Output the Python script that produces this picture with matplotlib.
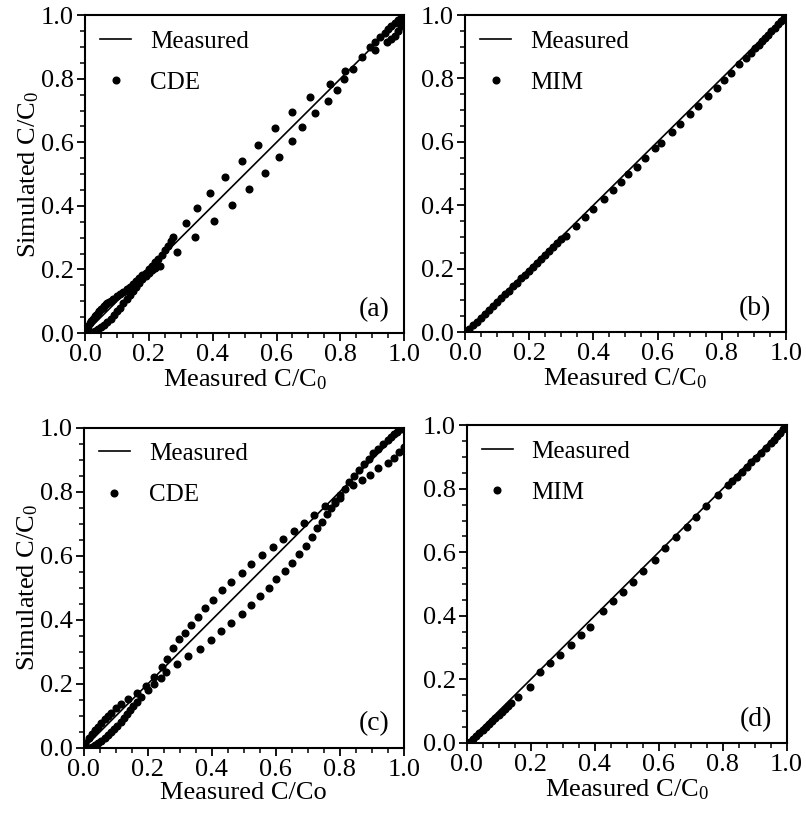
import matplotlib
matplotlib.use("Agg")
import matplotlib.pyplot as plt
from matplotlib.ticker import MultipleLocator, FormatStrFormatter

plt.rcParams["font.family"] = ["Liberation Serif", "DejaVu Serif"]
plt.rcParams["mathtext.default"] = "regular"

# 1:1 measured line
meas = [0.0, 0.25, 0.5, 0.75, 1.0]

# ---- panel (a): CDE ----
a_x = [0.0, 0.005, 0.01, 0.015, 0.02, 0.025, 0.03, 0.035, 0.04, 0.045, 0.05, 0.055, 0.06, 0.065,
       0.07, 0.075, 0.08, 0.089, 0.10, 0.11, 0.12, 0.131, 0.14, 0.15, 0.16, 0.17, 0.18, 0.19,
       0.20, 0.21, 0.22, 0.23, 0.24, 0.25, 0.26, 0.268, 0.277,
       0.317, 0.350, 0.392, 0.439, 0.491, 0.541, 0.594, 0.650, 0.705, 0.766, 0.815, 0.867, 0.893,
       0.91, 0.925, 0.94, 0.95, 0.96, 0.97, 0.98, 0.99, 1.0,
       0.01, 0.02, 0.03, 0.04, 0.05, 0.06, 0.07, 0.08, 0.09, 0.10, 0.11, 0.12, 0.13, 0.14, 0.15,
       0.16, 0.17, 0.18, 0.19, 0.20, 0.21, 0.22, 0.235,
       0.289, 0.343, 0.404, 0.462, 0.513, 0.564, 0.609, 0.648, 0.679, 0.721, 0.761, 0.789, 0.812,
       0.838, 0.909, 0.946, 0.96, 0.97, 0.98, 0.99, 1.0, 1.0]
a_y = [0.0, 0.012, 0.022, 0.03, 0.038, 0.045, 0.052, 0.058, 0.064, 0.07, 0.075, 0.08, 0.085, 0.09,
       0.094, 0.098, 0.102, 0.107, 0.115, 0.122, 0.13, 0.137, 0.145, 0.154, 0.163, 0.172, 0.181, 0.19,
       0.20, 0.21, 0.222, 0.234, 0.247, 0.26, 0.275, 0.29, 0.303,
       0.347, 0.392, 0.442, 0.492, 0.541, 0.593, 0.645, 0.695, 0.743, 0.785, 0.824, 0.869, 0.900,
       0.915, 0.93, 0.945, 0.955, 0.965, 0.975, 0.984, 0.992, 1.0,
       0.0, 0.002, 0.006, 0.012, 0.018, 0.026, 0.035, 0.045, 0.056, 0.068, 0.08, 0.093, 0.106, 0.12, 0.133,
       0.146, 0.158, 0.17, 0.18, 0.19, 0.198, 0.205, 0.212,
       0.254, 0.303, 0.352, 0.403, 0.453, 0.505, 0.554, 0.604, 0.649, 0.691, 0.730, 0.764, 0.799,
       0.832, 0.890, 0.916, 0.925, 0.935, 0.95, 0.965, 0.98, 0.99]

# ---- panel (b): MIM ----
b_x = [0.0, 0.012, 0.025, 0.037, 0.05, 0.062, 0.075, 0.087, 0.10, 0.112, 0.125, 0.137, 0.15, 0.162,
       0.175, 0.187, 0.20, 0.212, 0.225, 0.237, 0.25, 0.262, 0.275, 0.287, 0.30,
       0.314, 0.346, 0.373, 0.400, 0.433, 0.460, 0.485, 0.509, 0.535, 0.561, 0.592, 0.610, 0.644,
       0.670, 0.701, 0.725, 0.758, 0.784, 0.808, 0.83, 0.855, 0.875, 0.89,
       0.905, 0.915, 0.925, 0.935, 0.945, 0.955, 0.965, 0.975, 0.985, 0.993, 1.0]
b_y = [0.0, 0.009, 0.021, 0.032, 0.045, 0.057, 0.069, 0.081, 0.094, 0.106, 0.119, 0.131, 0.144, 0.156,
       0.169, 0.181, 0.194, 0.206, 0.219, 0.231, 0.244, 0.256, 0.269, 0.281, 0.293,
       0.302, 0.333, 0.362, 0.389, 0.421, 0.447, 0.472, 0.497, 0.522, 0.548, 0.580, 0.597, 0.630,
       0.657, 0.688, 0.712, 0.744, 0.771, 0.796, 0.818, 0.844, 0.864, 0.88,
       0.896, 0.906, 0.917, 0.927, 0.938, 0.949, 0.96, 0.971, 0.982, 0.991, 1.0]

# ---- panel (c): CDE ----
c_x = [0.0, 0.005, 0.015, 0.025, 0.035, 0.045, 0.055, 0.065, 0.075, 0.085, 0.10, 0.115, 0.139, 0.167,
       0.194, 0.220, 0.243, 0.261, 0.279, 0.297, 0.316, 0.336, 0.357, 0.380, 0.404, 0.432, 0.461,
       0.493, 0.524, 0.557, 0.590, 0.621, 0.657, 0.688, 0.720, 0.753,
       0.785, 0.80, 0.842, 0.868, 0.894, 0.920, 0.951, 0.97, 0.985, 1.0,
       0.015, 0.025, 0.035, 0.045, 0.055, 0.065, 0.075, 0.085, 0.095, 0.105, 0.115, 0.125, 0.135,
       0.145, 0.155, 0.165, 0.18, 0.20, 0.22, 0.24,
       0.258, 0.292, 0.326, 0.3625, 0.396, 0.430, 0.461, 0.493, 0.522, 0.55, 0.579, 0.602, 0.628,
       0.651, 0.672, 0.694, 0.714, 0.730, 0.745, 0.761, 0.774,
       0.785, 0.80, 0.815, 0.83, 0.845, 0.86, 0.875, 0.89, 0.905, 0.92, 0.935, 0.95, 0.96, 0.97,
       0.98, 0.99, 1.0]
c_y = [0.0, 0.015, 0.03, 0.043, 0.055, 0.067, 0.078, 0.089, 0.099, 0.109, 0.124, 0.1375, 0.153, 0.173,
       0.195, 0.223, 0.254, 0.278, 0.311, 0.340, 0.358, 0.384, 0.410, 0.438, 0.4625, 0.492, 0.518,
       0.546, 0.574, 0.601, 0.629, 0.652, 0.679, 0.702, 0.728, 0.754,
       0.765, 0.78, 0.822, 0.8375, 0.853, 0.874, 0.890, 0.905, 0.925, 0.94,
       0.0, 0.002, 0.008, 0.015, 0.022, 0.03, 0.04, 0.05, 0.06, 0.07, 0.082, 0.094, 0.106,
       0.118, 0.13, 0.142, 0.16, 0.18, 0.2, 0.22,
       0.236, 0.261, 0.2875, 0.308, 0.3375, 0.366, 0.390, 0.418, 0.445, 0.473, 0.499, 0.527, 0.553,
       0.577, 0.606, 0.632, 0.660, 0.686, 0.707, 0.730, 0.749,
       0.77, 0.79, 0.81, 0.83, 0.85, 0.868, 0.886, 0.903, 0.92, 0.935, 0.95, 0.962, 0.972, 0.98,
       0.988, 0.995, 1.0]

# ---- panel (d): MIM ----
d_x = [0.0, 0.01, 0.02, 0.03, 0.04, 0.05, 0.06, 0.07, 0.08, 0.09, 0.10, 0.11, 0.12, 0.13, 0.14,
       0.160, 0.197, 0.228, 0.259, 0.291, 0.327, 0.358, 0.384, 0.426, 0.457, 0.488, 0.520, 0.551,
       0.5875, 0.619, 0.655, 0.687, 0.718, 0.749, 0.785, 0.817,
       0.83, 0.845, 0.86, 0.875, 0.89, 0.905, 0.92, 0.935, 0.95, 0.96, 0.97, 0.98, 0.99, 1.0]
d_y = [0.0, 0.003, 0.012, 0.022, 0.031, 0.041, 0.05, 0.06, 0.069, 0.079, 0.088, 0.098, 0.107, 0.117, 0.127,
       0.1455, 0.175, 0.224, 0.251, 0.277, 0.308, 0.340, 0.366, 0.415, 0.447, 0.476, 0.507, 0.541,
       0.575, 0.612, 0.649, 0.680, 0.712, 0.745, 0.780, 0.811,
       0.823, 0.838, 0.853, 0.868, 0.883, 0.898, 0.913, 0.928, 0.944, 0.954, 0.965, 0.976, 0.988, 1.0]

panels = [
    ([0.1055, 0.5924, 0.396, 0.389], a_x, a_y, "CDE", "(a)", "Measured C/C$_0$", True),
    ([0.577, 0.5936, 0.398, 0.388], b_x, b_y, "MIM", "(b)", "Measured C/C$_0$", False),
    ([0.104, 0.0845, 0.397, 0.392], c_x, c_y, "CDE", "(c)", "Measured C/Co", True),
    ([0.579, 0.0906, 0.397, 0.389], d_x, d_y, "MIM", "(d)", "Measured C/C$_0$", False),
]

fig = plt.figure(figsize=(8.06, 8.17), dpi=100)
for rect, xs, ys, model, tag, xlab, ylab in panels:
    ax = fig.add_axes(rect)
    ax.plot(meas, meas, color="black", lw=1.2, label="Measured")
    ax.plot(xs, ys, ls="none", marker="o", ms=4.8, color="black", label=model)
    ax.set_xlim(0, 1)
    ax.set_ylim(0, 1)
    ax.xaxis.set_major_locator(MultipleLocator(0.2))
    ax.yaxis.set_major_locator(MultipleLocator(0.2))
    ax.xaxis.set_minor_locator(MultipleLocator(0.05))
    ax.yaxis.set_minor_locator(MultipleLocator(0.05))
    ax.xaxis.set_major_formatter(FormatStrFormatter("%.1f"))
    ax.yaxis.set_major_formatter(FormatStrFormatter("%.1f"))
    ax.tick_params(which="major", direction="out", length=6, width=1.3, labelsize=19, pad=2)
    ax.tick_params(which="minor", direction="out", length=3.5, width=1.1)
    for s in ax.spines.values():
        s.set_linewidth(1.5)
    ax.set_xlabel(xlab, fontsize=19, labelpad=1)
    if ylab:
        ax.set_ylabel("Simulated C/C$_0$", fontsize=19, labelpad=0)
    ax.legend(loc="upper left", frameon=False, fontsize=18, handlelength=1.25,
              handletextpad=0.75, labelspacing=0.75, borderaxespad=0.2, markerscale=1.0)
    ax.text(0.955, 0.075, tag, transform=ax.transAxes, ha="right", va="center", fontsize=20)

fig.savefig("out.png", dpi=100, facecolor="white")
